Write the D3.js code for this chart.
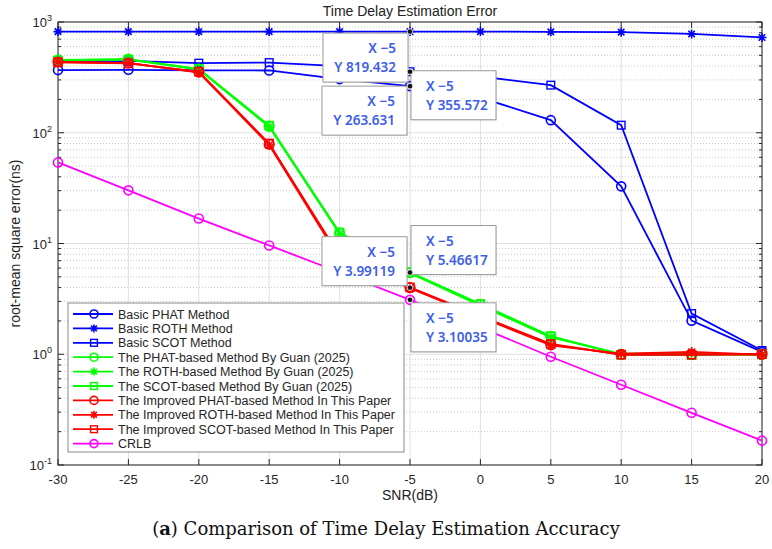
<!DOCTYPE html>
<html><head><meta charset="utf-8">
<script src="https://cdn.jsdelivr.net/npm/d3@7"></script>
<style>body{margin:0;background:#fff}svg{display:block}</style>
</head><body>
<svg id="c" width="772" height="549"></svg>
<script>
const snr = [-30,-25,-20,-15,-10,-5,0,5,10,15,20];
const basicPHAT = [368,370,366,365,305,263.631,208,130,32.8,2.01,1.05];
const basicROTH = [819,819,819,819,819,819.432,819,815,810,780,725];
const basicSCOT = [440,445,425,430,400,355.572,322,269,117,2.33,1.08];
const guanPHAT = [453,462,376,114.6,12.4,5.46617,2.8,1.44,1.0,1.0,1.0];
const guanROTH = [455,460,372,113,12.2,5.4,2.75,1.42,1.01,1.02,0.99];
const guanSCOT = [450,458,378,116,12.6,5.5,2.85,1.46,0.99,0.98,1.0];
const impPHAT = [435,425,353,78.7,7.5,3.99119,2.19,1.22,1.0,1.0,1.0];
const impROTH = [437,428,350,77.5,7.3,3.95,2.17,1.2,1.01,1.05,0.99];
const impSCOT = [433,423,356,80,7.7,4.02,2.22,1.24,0.99,0.99,1.0];
const crlb = [54,30.2,16.8,9.6,5.5,3.10035,1.75,0.95,0.53,0.296,0.166];
const seriesNames = ["Basic PHAT Method","Basic ROTH Method","Basic SCOT Method",
 "The PHAT-based Method By Guan (2025)","The ROTH-based Method By Guan (2025)","The SCOT-based Method By Guan (2025)",
 "The Improved PHAT-based Method In This Paper","The Improved ROTH-based Method In This Paper","The Improved SCOT-based Method In This Paper","CRLB"];
const seriesValues = [basicPHAT,basicROTH,basicSCOT,guanPHAT,guanROTH,guanSCOT,impPHAT,impROTH,impSCOT,crlb];
const seriesColors = ["#0000ff","#0000ff","#0000ff","#00ff00","#00ff00","#00ff00","#ff0000","#ff0000","#ff0000","#ff00ff"];
const seriesMarkers = ["o","*","s","o","*","s","o","*","s","o"];
const xTicks = [-30,-25,-20,-15,-10,-5,0,5,10,15,20];
const yDecades = [-1,0,1,2,3];
// data tips: [seriesIndex, x]
const tips = [
  {s:1, x:-5, dx:-87, dy:1.5, align:"right"},
  {s:0, x:-5, dx:-88, dy:0, align:"right"},
  {s:2, x:-5, dx:1, dy:-1, align:"left"},
  {s:6, x:-5, dx:-88, dy:-51, align:"right"},
  {s:3, x:-5, dx:1, dy:-47, align:"left"},
  {s:9, x:-5, dx:1, dy:3, align:"left"}
];

const svg = d3.select("#c");
const L=58,R=762,T=22,B=465;
const x = d3.scaleLinear().domain([-30,20]).range([L,R]);
const y = d3.scaleLog().domain([0.1,1000]).range([B,T]);
const axisCol = "#262626";

// grid
const g = svg.append("g");
const minors = [];
for (let d=-1; d<3; d++) for (let k=2;k<=9;k++) minors.push(k*Math.pow(10,d));
g.selectAll(".mg").data(minors).enter().append("line")
  .attr("x1",L).attr("x2",R).attr("y1",d=>y(d)).attr("y2",d=>y(d))
  .attr("stroke","#c8c8c8").attr("stroke-width",1).attr("stroke-dasharray","1,2");
g.selectAll(".gx").data(xTicks).enter().append("line")
  .attr("x1",d=>x(d)).attr("x2",d=>x(d)).attr("y1",T).attr("y2",B)
  .attr("stroke","#e0e0e0").attr("stroke-width",1);
g.selectAll(".gy").data(yDecades).enter().append("line")
  .attr("x1",L).attr("x2",R).attr("y1",d=>y(Math.pow(10,d))).attr("y2",d=>y(Math.pow(10,d)))
  .attr("stroke","#e0e0e0").attr("stroke-width",1);

// axes box + ticks
const ax = svg.append("g").attr("stroke",axisCol).attr("stroke-width",1);
ax.append("rect").attr("x",L).attr("y",T).attr("width",R-L).attr("height",B-T).attr("fill","none");
xTicks.forEach(t=>{
  ax.append("line").attr("x1",x(t)).attr("x2",x(t)).attr("y1",B).attr("y2",B-6);
  ax.append("line").attr("x1",x(t)).attr("x2",x(t)).attr("y1",T).attr("y2",T+6);
});
yDecades.forEach(d=>{
  const yy=y(Math.pow(10,d));
  ax.append("line").attr("x1",L).attr("x2",L+6).attr("y1",yy).attr("y2",yy);
  ax.append("line").attr("x1",R).attr("x2",R-6).attr("y1",yy).attr("y2",yy);
});
minors.forEach(m=>{
  const yy=y(m);
  ax.append("line").attr("x1",L).attr("x2",L+3).attr("y1",yy).attr("y2",yy);
  ax.append("line").attr("x1",R).attr("x2",R-3).attr("y1",yy).attr("y2",yy);
});

// tick labels
const font = "'Liberation Sans', Arial, sans-serif";
svg.selectAll(".xt").data(xTicks).enter().append("text")
  .attr("x",d=>x(d)).attr("y",B+19).attr("text-anchor","middle")
  .attr("font-family",font).attr("font-size",13).attr("fill",axisCol).text(d=>d);
yDecades.forEach(d=>{
  const t = svg.append("text").attr("x",L-6).attr("y",y(Math.pow(10,d))+5).attr("text-anchor","end")
    .attr("font-family",font).attr("font-size",13).attr("fill",axisCol);
  t.append("tspan").text("10");
  t.append("tspan").attr("dy",-6).attr("font-size",9).text(d);
});
svg.append("text").attr("x",(L+R)/2).attr("y",16).attr("text-anchor","middle")
  .attr("font-family",font).attr("font-size",14).attr("fill","#222").text("Time Delay Estimation Error");
svg.append("text").attr("x",(L+R)/2).attr("y",500).attr("text-anchor","middle")
  .attr("font-family",font).attr("font-size",14).attr("fill","#222").text("SNR(dB)");
svg.append("text").attr("transform",`translate(20,${(T+B)/2}) rotate(-90)`).attr("text-anchor","middle")
  .attr("font-family",font).attr("font-size",14).attr("fill","#222").text("root-mean square error(ns)");

// marker helper
function marker(sel, type, cx, cy, color, r){
  if(type==="o"){
    sel.append("circle").attr("cx",cx).attr("cy",cy).attr("r",r).attr("fill","none").attr("stroke",color).attr("stroke-width",1.6);
  } else if(type==="s"){
    const h=r*0.85;
    sel.append("rect").attr("x",cx-h).attr("y",cy-h).attr("width",2*h).attr("height",2*h).attr("fill","none").attr("stroke",color).attr("stroke-width",1.4);
  } else {
    const a=r, b=r*0.72;
    sel.append("path").attr("d",`M${cx-a},${cy}L${cx+a},${cy}M${cx},${cy-a}L${cx},${cy+a}M${cx-b},${cy-b}L${cx+b},${cy+b}M${cx-b},${cy+b}L${cx+b},${cy-b}`)
      .attr("stroke",color).attr("stroke-width",1.6).attr("fill","none");
  }
}

// series
const line = d3.line().x((d,i)=>x(snr[i])).y(d=>y(d));
const plot = svg.append("g");
seriesValues.forEach((vals,si)=>{
  const gs = plot.append("g");
  gs.append("path").attr("d",line(vals)).attr("fill","none").attr("stroke",seriesColors[si]).attr("stroke-width",1.8);
  vals.forEach((v,i)=>marker(gs, seriesMarkers[si], x(snr[i]), y(v), seriesColors[si], si>=3&&si<=8?4.8:4.5));
});

// legend
const lg = svg.append("g");
const lx=68, ly=303, lw=336, lh=149;
lg.append("rect").attr("x",lx).attr("y",ly).attr("width",lw).attr("height",lh).attr("fill","#fff").attr("stroke","#8a8a8a").attr("stroke-width",1);
seriesNames.forEach((n,i)=>{
  const yy = ly+11+i*14.4;
  lg.append("line").attr("x1",lx+5).attr("x2",lx+45).attr("y1",yy).attr("y2",yy).attr("stroke",seriesColors[i]).attr("stroke-width",1.8);
  marker(lg, seriesMarkers[i], lx+26, yy, seriesColors[i], 4);
  lg.append("text").attr("x",lx+50).attr("y",yy+4.5).attr("font-family",font).attr("font-size",12.5).attr("fill","#262626").text(n);
});

// data tips
const tipFont = "'Noto Sans', 'Open Sans', sans-serif";
tips.forEach(t=>{
  const i = snr.indexOf(t.x);
  const px = x(t.x), py = y(seriesValues[t.s][i]);
  const bx = px+t.dx, by = py+t.dy, bw=85, bh=49;
  const tg = svg.append("g");
  tg.append("rect").attr("x",bx+1).attr("y",by+1).attr("width",bw).attr("height",bh).attr("fill","#bbb").attr("opacity",0.35);
  tg.append("rect").attr("x",bx).attr("y",by).attr("width",bw).attr("height",bh).attr("fill","#fff").attr("stroke","#9a9a9a").attr("stroke-width",1);
  const tx = t.align==="right" ? bx+bw-12 : bx+15;
  const anchor = t.align==="right" ? "end":"start";
  [["X","\u22125"],["Y", String(seriesValues[t.s][i])]].forEach((p,k)=>{
    tg.append("text").attr("x",tx).attr("y",by+20+k*19).attr("text-anchor",anchor)
      .attr("font-family",tipFont).attr("font-weight",600).attr("font-size",13.5).attr("fill","#3d5ee8")
      .attr("xml:space","preserve").text(p[0]+" "+p[1]);
  });
});
tips.forEach(t=>{
  const i = snr.indexOf(t.x);
  svg.append("circle").attr("cx",x(t.x)).attr("cy",y(seriesValues[t.s][i])).attr("r",2.8)
    .attr("fill","#111").attr("stroke","#fff").attr("stroke-width",0.8);
});

// caption
const cap = svg.append("text").attr("x",386).attr("y",535).attr("text-anchor","middle")
  .attr("font-family","'DejaVu Serif', 'Liberation Serif', serif").attr("font-size",18).attr("fill","#111");
cap.append("tspan").text("(");
cap.append("tspan").attr("font-weight","bold").text("a");
cap.append("tspan").text(") Comparison of Time Delay Estimation Accuracy");
</script>
</body></html>
